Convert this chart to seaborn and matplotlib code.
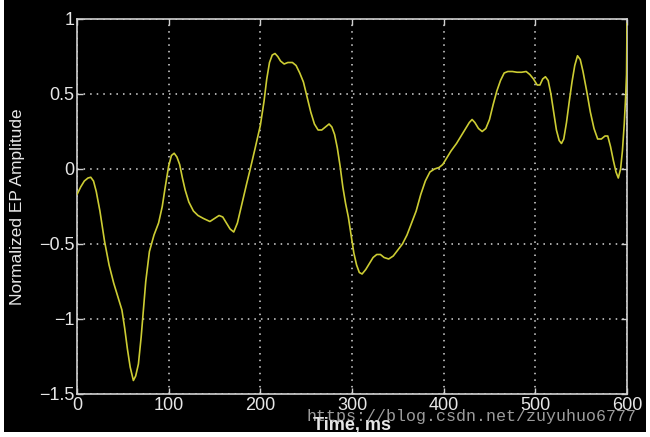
import numpy as np
import pandas as pd
import seaborn as sns
import matplotlib
matplotlib.use("Agg")
import matplotlib.pyplot as plt
from matplotlib.patches import Rectangle

# ---- data ----
time_ms = [0, 4, 8, 12, 15, 18, 21, 25, 30, 35, 40, 45, 49, 52, 55, 58, 61.5, 64, 67, 70,
           72, 75, 79, 84, 89, 93, 96, 100, 103, 106, 109, 112, 115, 118, 122, 127, 132, 138,
           145, 150, 155, 159, 163, 167, 171, 175, 180, 185, 189, 194, 200, 204, 207, 210,
           213, 216, 219, 222, 226, 230, 235, 239, 243, 247, 251, 255, 259, 263, 267, 271,
           275, 278, 281, 284, 287, 290, 293, 296, 299, 302, 305, 308, 311, 315, 319, 323,
           327, 331, 335, 340, 345, 350, 355, 360, 365, 370, 375, 380, 385, 390, 395, 399,
           403, 408, 414, 419, 424, 428, 431, 434, 438, 442, 446, 450, 454, 458, 462, 466,
           470, 475, 480, 485, 490, 494, 498, 502, 505, 508, 511, 514, 517, 520, 523, 526,
           528.5, 531, 534, 537, 540, 543, 546, 549, 552, 556, 560, 564, 568, 572, 576, 579,
           582, 585, 588, 590.5, 593, 595, 597, 598.5, 599.5, 600]
amplitude = [-0.17, -0.12, -0.08, -0.06, -0.055, -0.08, -0.15, -0.28, -0.48, -0.64, -0.76,
             -0.86, -0.94, -1.06, -1.20, -1.32, -1.41, -1.38, -1.30, -1.12, -0.97, -0.75,
             -0.55, -0.44, -0.36, -0.25, -0.13, 0.02, 0.09, 0.105, 0.08, 0.03, -0.06, -0.14,
             -0.22, -0.28, -0.31, -0.33, -0.35, -0.33, -0.31, -0.32, -0.36, -0.40, -0.42,
             -0.36, -0.23, -0.10, 0.0, 0.13, 0.29, 0.45, 0.60, 0.71, 0.76, 0.77, 0.75, 0.72,
             0.70, 0.71, 0.71, 0.69, 0.64, 0.58, 0.48, 0.38, 0.30, 0.26, 0.26, 0.28, 0.30,
             0.28, 0.23, 0.14, 0.02, -0.12, -0.23, -0.32, -0.44, -0.56, -0.64, -0.69, -0.70,
             -0.67, -0.63, -0.59, -0.57, -0.57, -0.59, -0.60, -0.58, -0.54, -0.50, -0.44,
             -0.36, -0.28, -0.17, -0.08, -0.02, 0.0, 0.01, 0.03, 0.07, 0.12, 0.17, 0.22, 0.27,
             0.31, 0.33, 0.31, 0.27, 0.25, 0.27, 0.33, 0.43, 0.52, 0.59, 0.64, 0.65, 0.65,
             0.645, 0.645, 0.65, 0.63, 0.60, 0.56, 0.56, 0.60, 0.615, 0.59, 0.50, 0.38, 0.26,
             0.19, 0.17, 0.20, 0.31, 0.45, 0.58, 0.69, 0.755, 0.73, 0.65, 0.52, 0.38, 0.27,
             0.20, 0.20, 0.22, 0.22, 0.15, 0.06, -0.02, -0.06, 0.0, 0.12, 0.30, 0.48, 0.63,
             0.97]

x_ticks = [0, 100, 200, 300, 400, 500, 600]
x_tick_labels = ["0", "100", "200", "300", "400", "500", "600"]
y_ticks = [-1.5, -1, -0.5, 0, 0.5, 1]
y_tick_labels = ["\u22121.5", "\u22121", "\u22120.5", "0", "0.5", "1"]

df = pd.DataFrame({"Time, ms": time_ms, "Amplitude": amplitude})

sns.set_theme(style="dark")
plt.rcParams["font.family"] = ["Liberation Sans Narrow", "Liberation Sans", "DejaVu Sans"]

fig = plt.figure(figsize=(6.5, 4.37), dpi=100, facecolor="white")
# black panel of the screenshot
fig.patches.append(Rectangle((4 / 650, 5 / 437), 642 / 650, 432 / 437,
                             transform=fig.transFigure, facecolor="black",
                             edgecolor="none", zorder=-5))
ax = fig.add_axes([77 / 650, 1 - 394 / 437, 550 / 650, 375 / 437])
ax.set_facecolor("black")

sns.lineplot(data=df, x="Time, ms", y="Amplitude", ax=ax, color="#cccc33",
             linewidth=1.2, sort=False, zorder=3)

ax.set_xlim(0, 600)
ax.set_ylim(-1.5, 1)
ax.set_xticks(x_ticks)
ax.set_xticklabels(x_tick_labels)
ax.set_yticks(y_ticks)
ax.set_yticklabels(y_tick_labels)

ax.grid(True, color="#d8d8d8", linestyle=(0, (1, 3.3)), linewidth=1.1, zorder=1)
for s in ax.spines.values():
    s.set_visible(True)
    s.set_color("#d0d0d0")
    s.set_linewidth(1.2)

ax.tick_params(axis="both", which="both", direction="in", length=4, width=1,
               color="#d0d0d0", top=True, right=True, bottom=True, left=True,
               labelcolor="#e6e6e6", labelsize=13, pad=2)

ax.set_xlabel("Time, ms", color="#e6e6e6", fontsize=13, fontweight="bold", labelpad=2)
ax.set_ylabel("Normalized EP Amplitude", color="#e6e6e6", fontsize=12.5, labelpad=10)

# watermark
fig.text(637 / 650, 1 - 417 / 437, "https://blog.csdn.net/zuyuhuo6777",
         ha="right", va="center", color="#d0d0d0", alpha=0.75, fontsize=12,
         family=["Liberation Mono", "DejaVu Sans Mono"], zorder=10)

fig.savefig("out.png", dpi=100, facecolor=fig.get_facecolor())
